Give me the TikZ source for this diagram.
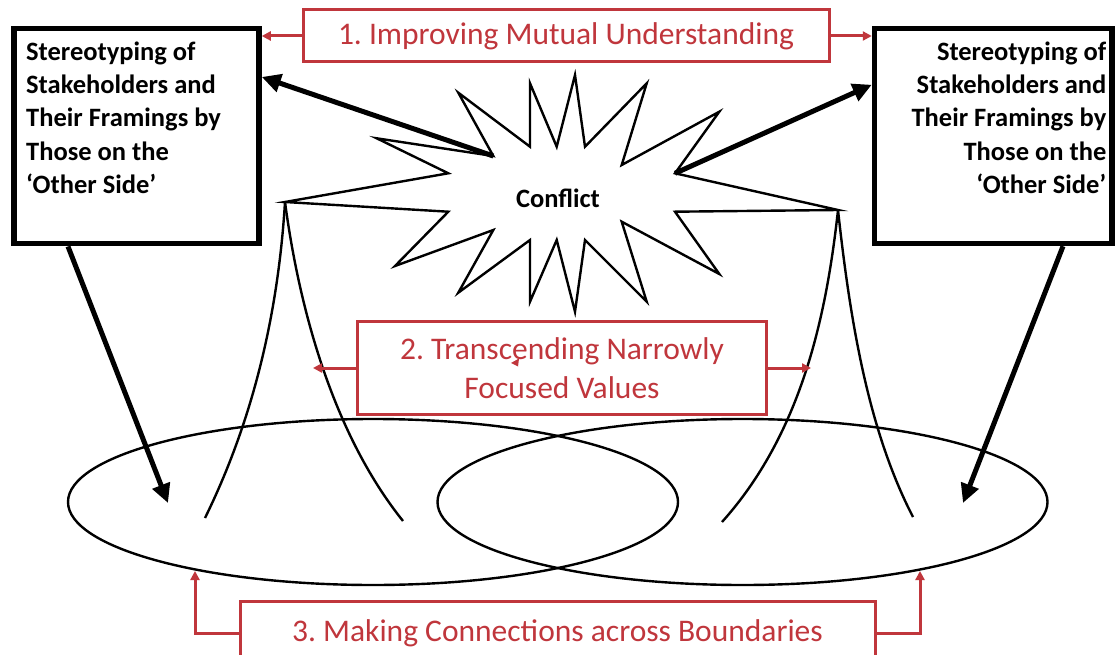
\documentclass[tikz,border=0pt]{standalone}
\usepackage{fontspec}
\setmainfont{Carlito}
\usetikzlibrary{arrows.meta}
\definecolor{accred}{RGB}{192,54,60}
\frenchspacing
\tikzset{
  blackbox/.style={draw=black,line width=5.5pt,inner sep=0pt},
  stxt/.style={inner sep=0pt,font=\fontsize{26.5}{33.3}\selectfont\bfseries},
  redbox/.style={draw=accred,line width=3pt,text=accred,inner sep=0pt,align=center,
     font=\fontsize{31.5}{39}\selectfont},
  redarrow/.style={draw=accred,line width=3pt,-{Triangle[length=9pt,width=9pt]}},
  bigarrow/.style={draw=black,line width=5pt,-{Triangle[length=19pt,width=18pt]}},
  thinline/.style={draw=black,line width=2.4pt,line join=miter},
}
\begin{document}
\begin{tikzpicture}[x=1pt,y=-1pt]
\clip (0,0) rectangle (1118,655);
\fill[white] (0,0) rectangle (1118,655);

% ellipses
\draw[thinline] (373,502) ellipse [x radius=305, y radius=83];
\draw[thinline] (742.5,502) ellipse [x radius=305, y radius=83];

% cones
\coordinate (tipL) at (285,202);
\coordinate (tipR) at (838,210);
\draw[thinline] (tipL) .. controls (279,300) and (258,410) .. (205,518);
\draw[thinline] (tipL) .. controls (298,300) and (330,430) .. (403,521);
\draw[thinline] (tipR) .. controls (826,320) and (800,435) .. (722,522);
\draw[thinline] (tipR) .. controls (850,320) and (868,430) .. (913,517);

% starburst
\draw[thinline, fill=white] (tipL) -- (448.3,173.3) -- (376.7,138.3) -- (493.3,156) -- (458.3,92.7)
  -- (530,146.7) -- (530,83.3) -- (556.7,146.7) -- (575,75) -- (585,146.7) -- (646.7,83.3)
  -- (621.7,165) -- (719.3,111.7) -- (675,173.3) -- (tipR) -- (675,211.7) -- (719.3,274)
  -- (621.7,221.7) -- (646.7,301.7) -- (585,240) -- (575,311.7) -- (556.7,240) -- (530,301.7)
  -- (530,240) -- (458.3,292.7) -- (493.3,230) -- (395,266) -- (448.3,211.7) -- cycle;
\node[stxt] (conflict) at (558,198) {Conflict};
\coordinate (cL) at (493.3,156);
\coordinate (cR) at (675,173.3);

% black boxes
\node[blackbox,minimum width=245pt,minimum height=215pt,anchor=center] (lbox) at (136.5,136.2) {};
\node[stxt,anchor=north west,align=left] (ltxt) at (26,41.5)
  {Stereotyping of\\Stakeholders and\\Their Framings by\\Those on the\\‘Other Side’};
\node[blackbox,minimum width=237.5pt,minimum height=215pt,anchor=center] (rbox) at (993.25,136) {};
\node[stxt,anchor=north east,align=right] (rtxt) at (1106.5,41.5)
  {Stereotyping of\\Stakeholders and\\Their Framings by\\Those on the\\‘Other Side’};

% thick arrows
\draw[bigarrow] (cL) -- ([yshift=-51pt]lbox.north east);
\draw[bigarrow] (cR) -- ([yshift=-59pt]rbox.north west);
\coordinate (eL) at (168,503);
\coordinate (eR) at (963,503);
\draw[bigarrow] ([xshift=56.75pt]lbox.south west) -- (eL);
\draw[bigarrow] ([xshift=-51.75pt]rbox.south east) -- (eR);

% red boxes
\node[redbox,minimum width=526pt,minimum height=52pt] (b1) at (566,36) {1. Improving Mutual Understanding};
\draw[redarrow] (b1.west) -- (b1.west -| lbox.east);
\draw[redarrow] (b1.east) -- (b1.east -| rbox.west);

\node[redbox,minimum width=409pt,minimum height=93pt] (b2) at (562,368) {2. Transcending Narrowly\\Focused Values};
\coordinate (c2L) at (313,368);
\coordinate (c2R) at (811,368);
\draw[redarrow] (b2.west) -- (c2L);
\draw[redarrow] (b2.east) -- (c2R);
\fill[accred] (511,363) -- (519,358.5) -- (518,366.5) -- cycle;

\node[redbox,minimum width=635pt,minimum height=64pt] (b3) at (557.5,633) {3. Making Connections across Boundaries};
\coordinate (e3L) at (195,571);
\coordinate (e3R) at (920,571);
\draw[redarrow] (b3.west) -| (e3L);
\draw[redarrow] (b3.east) -| (e3R);
\end{tikzpicture}
\end{document}
